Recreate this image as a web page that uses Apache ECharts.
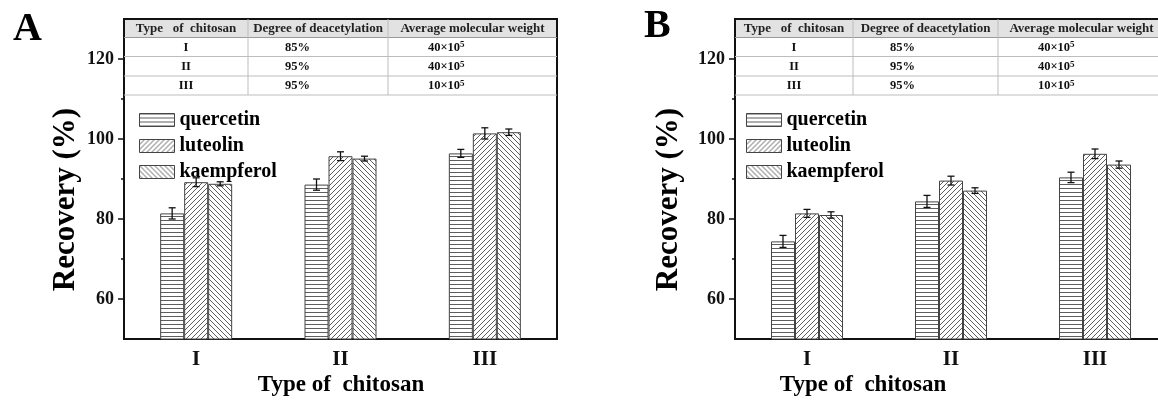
<!DOCTYPE html>
<html><head><meta charset="utf-8">
<script src="https://cdn.jsdelivr.net/npm/echarts@6/dist/echarts.min.js"></script>
<style>html,body{margin:0;padding:0;background:#fff}#c{width:1158px;height:402px}</style>
</head><body><div id="c"></div>
<script>
// ---------------- data ----------------
const categories = ['I', 'II', 'III'];
const seriesNames = ['quercetin', 'luteolin', 'kaempferol'];
// Panel A
const aQuercetin = [81.4, 88.6, 96.4];
const aQuercetinErr = [1.4, 1.4, 1.0];
const aLuteolin = [89.2, 95.7, 101.4];
const aLuteolinErr = [1.1, 1.1, 1.4];
const aKaempferol = [88.8, 95.1, 101.7];
const aKaempferolErr = [0.5, 0.6, 0.8];
// Panel B
const bQuercetin = [74.4, 84.4, 90.4];
const bQuercetinErr = [1.5, 1.5, 1.3];
const bLuteolin = [81.4, 89.6, 96.3];
const bLuteolinErr = [1.0, 1.1, 1.2];
const bKaempferol = [81.0, 87.1, 93.6];
const bKaempferolErr = [0.8, 0.7, 0.9];
// axis ticks
const yLabelValues = [60, 80, 100, 120];
const yMinorValues = [70, 90, 110];
// table content
const tableHeader = ['Type   of  chitosan', 'Degree of deacetylation', 'Average molecular weight'];
const tableTypes = ['I', 'II', 'III'];
const tableDDA = ['85%', '95%', '95%'];
const tableMWBase = ['40×10', '40×10', '10×10'];
const tableMWExp = ['5', '5', '5'];
const panelLetters = ['A', 'B'];
const yName = 'Recovery (%)';
const xName = 'Type of  chitosan';

// ---------------- styling ----------------
const SERIF = 'Liberation Serif';
const BAR_W = 24;
const Y_MIN = 50, Y_MAX = 130;

function makePattern(kind) {
  const s = kind === 'h' ? 4 : 5;
  const c = document.createElement('canvas');
  c.width = s; c.height = s;
  const g = c.getContext('2d');
  g.fillStyle = '#fff'; g.fillRect(0, 0, s, s);
  g.strokeStyle = '#5e5e5e'; g.lineWidth = 1;
  g.beginPath();
  if (kind === 'h') { g.moveTo(0, 0.5); g.lineTo(s, 0.5); }
  else if (kind === '/') {
    g.moveTo(0, s); g.lineTo(s, 0);
    g.moveTo(-1, 1); g.lineTo(1, -1);
    g.moveTo(s - 1, s + 1); g.lineTo(s + 1, s - 1);
  } else {
    g.moveTo(0, 0); g.lineTo(s, s);
    g.moveTo(-1, s - 1); g.lineTo(1, s + 1);
    g.moveTo(s - 1, -1); g.lineTo(s + 1, 1);
  }
  g.stroke();
  return c;
}
const patterns = [makePattern('h'), makePattern('/'), makePattern('\\')];

const panels = [
  { grid: { left: 124, top: 19, width: 433, height: 320 },
    vals: [aQuercetin, aLuteolin, aKaempferol], errs: [aQuercetinErr, aLuteolinErr, aKaempferolErr],
    legendLeft: 134, cols: [124, 248, 388, 557],
    letter: { x: 13, y: 50 }, yName: { x: 66, y: 199.5 }, xName: { x: 341, y: 385 } },
  { grid: { left: 735, top: 19, width: 432, height: 320 },
    vals: [bQuercetin, bLuteolin, bKaempferol], errs: [bQuercetinErr, bLuteolinErr, bKaempferolErr],
    legendLeft: 741, cols: [735, 853, 998, 1165],
    letter: { x: 644, y: 47 }, yName: { x: 669, y: 199.5 }, xName: { x: 863, y: 385 } }
];

const grids = [], xAxes = [], yAxes = [], series = [], legends = [], graphics = [];
const rows = [19, 37.5, 56.5, 76, 95];

panels.forEach((p, pi) => {
  grids.push(Object.assign({ show: true, borderColor: '#111', borderWidth: 2, backgroundColor: 'transparent', containLabel: false, outerBoundsMode: 'none' }, p.grid));
  xAxes.push({
    type: 'category', gridIndex: pi, data: categories,
    axisLine: { lineStyle: { color: '#111', width: 2 } },
    axisTick: { show: false },
    axisLabel: { fontFamily: SERIF, fontWeight: 'bold', fontSize: 21, color: '#111', margin: 10 },
    splitLine: { show: false }
  });
  yAxes.push({
    type: 'value', gridIndex: pi, min: Y_MIN, max: Y_MAX, position: 'left',
    axisLine: { show: true, lineStyle: { color: '#111', width: 2 } },
    axisTick: { show: true, length: 6, lineStyle: { color: '#111', width: 1.5 }, customValues: yLabelValues },
    axisLabel: { fontFamily: SERIF, fontWeight: 'bold', fontSize: 18, color: '#111', margin: 10, customValues: yLabelValues },
    splitLine: { show: false }
  });
  yAxes.push({
    type: 'value', gridIndex: pi, min: Y_MIN, max: Y_MAX, position: 'left',
    axisLine: { show: false },
    axisTick: { show: true, length: 3, lineStyle: { color: '#111', width: 1.5 }, customValues: yMinorValues },
    axisLabel: { show: false, customValues: yMinorValues },
    splitLine: { show: false }
  });
  seriesNames.forEach((name, k) => {
    series.push({
      type: 'bar', name: name, xAxisIndex: pi, yAxisIndex: pi * 2,
      data: p.vals[k], barWidth: BAR_W, barGap: '0%',
      itemStyle: { color: { image: patterns[k], repeat: 'repeat' }, borderColor: '#444', borderWidth: 1 },
      emphasis: { disabled: true }, z: 2
    });
  });
  seriesNames.forEach((name, k) => {
    const offset = (k - 1) * BAR_W;
    series.push({
      type: 'custom', name: name + ' error', xAxisIndex: pi, yAxisIndex: pi * 2, z: 5,
      data: p.vals[k].map((v, i) => [i, v, p.errs[k][i]]),
      encode: { x: 0, y: 1 },
      renderItem: function (params, api) {
        const ci = api.value(0), v = api.value(1), e = api.value(2);
        const c = api.coord([ci, v]);
        const x = c[0] + offset;
        const yt = api.coord([ci, v + e])[1];
        const yb = api.coord([ci, v - e])[1];
        const hw = 3.5;
        const st = { stroke: '#111', lineWidth: 1.3 };
        return { type: 'group', children: [
          { type: 'line', shape: { x1: x, y1: yt, x2: x, y2: yb }, style: st },
          { type: 'line', shape: { x1: x - hw, y1: yt, x2: x + hw, y2: yt }, style: st },
          { type: 'line', shape: { x1: x - hw, y1: yb, x2: x + hw, y2: yb }, style: st }
        ] };
      }
    });
  });
  legends.push({
    data: seriesNames, left: p.legendLeft, top: 105, orient: 'vertical',
    icon: 'rect', itemWidth: 35, itemHeight: 13, itemGap: 6, selectedMode: false,
    itemStyle: { borderColor: '#444', borderWidth: 1 },
    textStyle: { fontFamily: SERIF, fontWeight: 'bold', fontSize: 20, color: '#000' }
  });

  // panel letter, axis names
  graphics.push({ type: 'text', x: p.letter.x, y: p.letter.y, style: { text: panelLetters[pi], fontFamily: SERIF, fontWeight: 'bold', fontSize: 40, fill: '#000', align: 'left', verticalAlign: 'bottom' } });
  graphics.push({ type: 'text', x: p.yName.x, y: p.yName.y, rotation: Math.PI / 2, style: { text: yName, fontFamily: SERIF, fontWeight: 'bold', fontSize: 31, fill: '#000', align: 'center', verticalAlign: 'middle' } });
  graphics.push({ type: 'text', x: p.xName.x, y: p.xName.y, style: { text: xName, fontFamily: SERIF, fontWeight: 'bold', fontSize: 23, fill: '#000', align: 'center', verticalAlign: 'middle' } });

  // table
  const c = p.cols;
  graphics.push({ type: 'rect', z: 10, shape: { x: c[0] + 1, y: rows[0] + 1, width: c[3] - c[0] - 2, height: rows[1] - rows[0] - 1 }, style: { fill: '#e2e2e2' } });
  graphics.push({ type: 'rect', z: 10, shape: { x: c[0] + 1, y: rows[1], width: c[3] - c[0] - 2, height: rows[4] - rows[1] }, style: { fill: '#fff' } });
  for (let r = 1; r <= 4; r++) {
    graphics.push({ type: 'line', z: 11, shape: { x1: c[0], y1: rows[r], x2: c[3], y2: rows[r] }, style: { stroke: r === 1 ? '#9a9a9a' : '#bdbdbd', lineWidth: 1 } });
  }
  for (let j = 1; j <= 2; j++) {
    graphics.push({ type: 'line', z: 11, shape: { x1: c[j], y1: rows[0], x2: c[j], y2: rows[4] }, style: { stroke: '#bdbdbd', lineWidth: 1 } });
  }
  tableHeader.forEach((h, j) => {
    graphics.push({ type: 'text', z: 12, x: (c[j] + c[j + 1]) / 2, y: (rows[0] + rows[1]) / 2 + 0.5, style: { text: h, fontFamily: SERIF, fontWeight: 'bold', fontSize: 13, fill: '#222', align: 'center', verticalAlign: 'middle' } });
  });
  for (let r = 0; r < 3; r++) {
    const yc = (rows[r + 1] + rows[r + 2]) / 2 + 0.5;
    graphics.push({ type: 'text', z: 12, x: (c[0] + c[1]) / 2, y: yc, style: { text: tableTypes[r], fontFamily: SERIF, fontWeight: 'bold', fontSize: 12.5, fill: '#111', align: 'center', verticalAlign: 'middle' } });
    graphics.push({ type: 'text', z: 12, x: c[1] + 37, y: yc, style: { text: tableDDA[r], fontFamily: SERIF, fontWeight: 'bold', fontSize: 12.5, fill: '#111', align: 'left', verticalAlign: 'middle' } });
    graphics.push({ type: 'text', z: 12, x: c[2] + 40, y: yc, style: {
      text: '{b|' + tableMWBase[r] + '}{s|' + tableMWExp[r] + '}', align: 'left', verticalAlign: 'middle',
      rich: {
        b: { fontFamily: SERIF, fontWeight: 'bold', fontSize: 12.5, fill: '#111', color: '#111' },
        s: { fontFamily: SERIF, fontWeight: 'bold', fontSize: 9, fill: '#111', color: '#111', verticalAlign: 'top', padding: [0, 0, 5, 0] }
      } } });
  }
});

const chart = echarts.init(document.getElementById('c'), null, { renderer: 'canvas' });
chart.setOption({
  animation: false,
  backgroundColor: '#fff',
  grid: grids, xAxis: xAxes, yAxis: yAxes, series: series, legend: legends,
  graphic: { elements: graphics }
});
</script></body></html>
